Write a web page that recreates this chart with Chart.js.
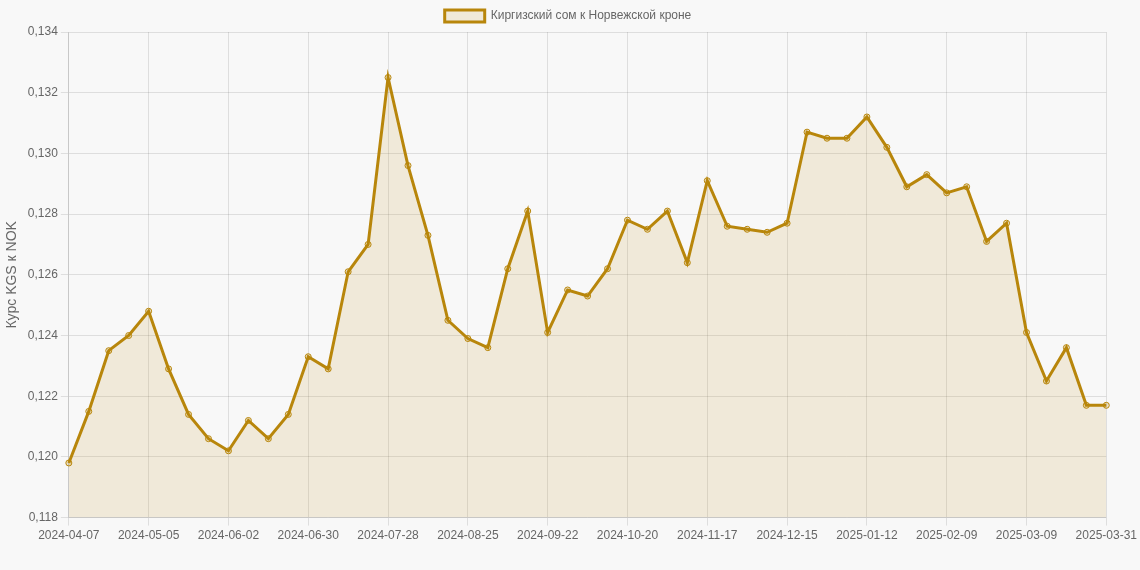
<!DOCTYPE html>
<html>
<head>
<meta charset="utf-8">
<script src="https://cdn.jsdelivr.net/npm/chart.js@4"></script>
<style>
    html, body { margin: 0; padding: 0; background: #f8f8f8; }
    #wrap { width: 1140px; height: 570px; }
</style>
</head>
<body>
<div id="wrap"><canvas id="rateChart"></canvas></div>
<script>
// Weekly KGS -> NOK rate
const dates = [
    '2024-04-07', '2024-04-14', '2024-04-21', '2024-04-28', '2024-05-05', '2024-05-12',
    '2024-05-19', '2024-05-26', '2024-06-02', '2024-06-09', '2024-06-16', '2024-06-23',
    '2024-06-30', '2024-07-07', '2024-07-14', '2024-07-21', '2024-07-28', '2024-08-04',
    '2024-08-11', '2024-08-18', '2024-08-25', '2024-09-01', '2024-09-08', '2024-09-15',
    '2024-09-22', '2024-09-29', '2024-10-06', '2024-10-13', '2024-10-20', '2024-10-27',
    '2024-11-03', '2024-11-10', '2024-11-17', '2024-11-24', '2024-12-01', '2024-12-08',
    '2024-12-15', '2024-12-22', '2024-12-29', '2025-01-05', '2025-01-12', '2025-01-19',
    '2025-01-26', '2025-02-02', '2025-02-09', '2025-02-16', '2025-02-23', '2025-03-02',
    '2025-03-09', '2025-03-16', '2025-03-23', '2025-03-30', '2025-03-31'
];

const rates = [
    0.1198, 0.1215, 0.1235, 0.1240, 0.1248, 0.1229,
    0.1214, 0.1206, 0.1202, 0.1212, 0.1206, 0.1214,
    0.1233, 0.1229, 0.1261, 0.1270, 0.1325, 0.1296,
    0.1273, 0.1245, 0.1239, 0.1236, 0.1262, 0.1281,
    0.1241, 0.1255, 0.1253, 0.1262, 0.1278, 0.1275,
    0.1281, 0.1264, 0.1291, 0.1276, 0.1275, 0.1274,
    0.1277, 0.1307, 0.1305, 0.1305, 0.1312, 0.1302,
    0.1289, 0.1293, 0.1287, 0.1289, 0.1271, 0.1277,
    0.1241, 0.1225, 0.1236, 0.1217, 0.1217
];

const yMin = 0.118;
const yMax = 0.134;
const yStep = 0.002;

Chart.defaults.font.family = '"Liberation Sans", Arial, sans-serif';
Chart.defaults.font.size = 12;
Chart.defaults.color = '#666';

function createRateChart() {
    const ctx = document.getElementById('rateChart').getContext('2d');

    new Chart(ctx, {
        type: 'line',
        data: {
            labels: dates,
            datasets: [{
                label: 'Киргизский сом к Норвежской кроне',
                data: rates,
                borderColor: '#b8860b',
                backgroundColor: 'rgba(184, 134, 11, 0.13)',
                borderWidth: 3,
                pointRadius: 3,
                pointBorderWidth: 1,
                pointBackgroundColor: 'rgba(184, 134, 11, 0.2)',
                pointBorderColor: '#b8860b',
                tension: 0,
                fill: true
            }]
        },
        options: {
            responsive: true,
            maintainAspectRatio: false,
            animation: false,
            locale: 'ru-RU',
            layout: {
                padding: { left: 0, right: 4, top: 0, bottom: 24 }
            },
            plugins: {
                legend: {
                    display: true,
                    position: 'top',
                    labels: {
                        boxWidth: 40,
                        boxHeight: 12
                    }
                },
                tooltip: { enabled: false }
            },
            scales: {
                x: {
                    ticks: {
                        maxRotation: 0,
                        autoSkip: true,
                        maxTicksLimit: 14
                    }
                },
                y: {
                    min: yMin,
                    max: yMax,
                    title: {
                        display: true,
                        text: 'Курс KGS к NOK',
                        font: { size: 14 }
                    },
                    ticks: {
                        stepSize: yStep,
                        callback: function(value) {
                            return value.toLocaleString('ru-RU', {
                                minimumFractionDigits: 3,
                                maximumFractionDigits: 3
                            });
                        }
                    }
                }
            }
        }
    });
}

document.addEventListener('DOMContentLoaded', createRateChart);
</script>
</body>
</html>
